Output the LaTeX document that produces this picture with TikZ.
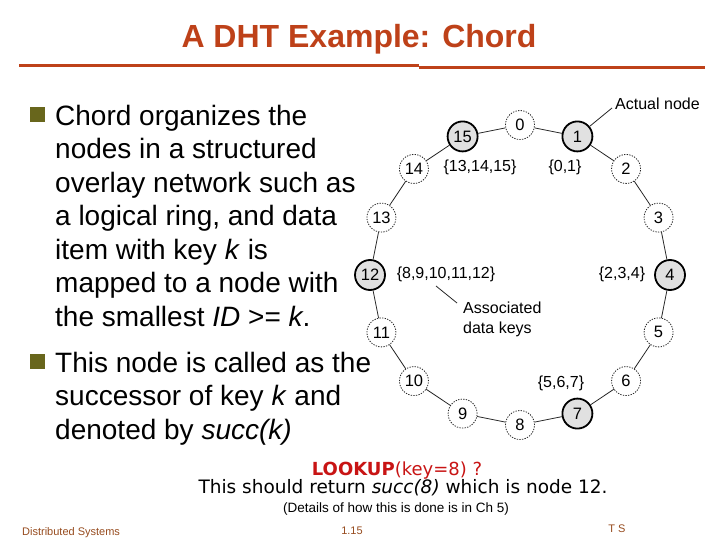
\documentclass[tikz,border=0pt]{standalone}
\usepackage{fontspec}
\setmainfont{Liberation Sans}
\newfontfamily\verd{DejaVu Sans}
\definecolor{titlered}{RGB}{190,65,25}
\definecolor{olive}{RGB}{104,102,28}
\definecolor{lookred}{RGB}{200,20,20}
\definecolor{footbrown}{RGB}{150,75,30}
\definecolor{nodegray}{RGB}{225,225,225}
\begin{document}
\begin{tikzpicture}[x=1pt,y=-1pt,
  vnode/.style={circle,draw=black!85,line width=0.8pt,dash pattern=on 1.3pt off 1.3pt,fill=white,minimum size=29pt,inner sep=0pt,font=\fontsize{16.5}{16.5}\selectfont},
  anode/.style={circle,draw=black,line width=1.8pt,fill=nodegray,minimum size=30pt,inner sep=0pt,font=\fontsize{16.5}{16.5}\selectfont},
  keylbl/.style={inner sep=0pt,font=\fontsize{16}{16}\selectfont},
  ringedge/.style={draw=black!85,line width=0.8pt},
  bullettext/.style={anchor=base west,inner sep=0pt,align=left,font=\fontsize{28}{33.5}\selectfont},
  bulletsq/.style={fill=olive,draw=none},
  foot/.style={inner sep=0pt,text=footbrown,font=\fontsize{11}{11}\selectfont}]
\useasboundingbox (0,0) rectangle (720,540);

% title
\node[inner sep=0pt,anchor=base,text=titlered,font=\fontsize{32}{32}\selectfont\bfseries] (title) at (359,48) {A DHT Example: Chord};
\coordinate (r1) at (19,65.5);
\coordinate (r2) at (419,65.5);
\coordinate (r3) at (419,67.5);
\coordinate (r4) at (705,67.5);
\draw[titlered,line width=3.2pt] (r1) -- (r2);
\draw[titlered,line width=3.2pt] (r3) -- (r4);

% bullets (anchor = baseline of the last line)
\fill[bulletsq] (30,107) rectangle (45,122);
\node[bullettext] (b1) at (55,326) {Chord organizes the\\nodes in a structured\\overlay network such as\\a logical ring, and data\\item with key \textit{k} is\\mapped to a node with\\the smallest \textit{ID} >= \textit{k}.};
\fill[bulletsq] (30,354) rectangle (45,369);
\node[bullettext] (b2) at (55,439) {This node is called as the\\successor of key \textit{k} and\\denoted by \textit{succ(k)}};

% ring
\foreach \i in {0,2,3,5,6,8,9,10,11,13,14}
  \node[vnode] (n\i) at ({520+150*cos(90-22.5*\i)},{275-150*sin(90-22.5*\i)}) {\i};
\foreach \i in {1,4,7,12,15}
  \node[anode] (n\i) at ({520+150*cos(90-22.5*\i)},{275-150*sin(90-22.5*\i)}) {\i};
\foreach \i [evaluate=\i as \j using {int(mod(\i+1,16))}] in {0,...,15}
  \draw[ringedge] (n\i) -- (n\j);

% key labels
\node[keylbl] (k15) at (480,167) {\{13,14,15\}};
\node[keylbl] (k1) at (565,167) {\{0,1\}};
\node[keylbl] (k12) at (446,274) {\{8,9,10,11,12\}};
\node[keylbl] (k4) at (622,274) {\{2,3,4\}};
\node[keylbl] (k7) at (561,383) {\{5,6,7\}};

% callouts
\node[keylbl,anchor=west] (actual) at (615,104) {Actual node};
\coordinate (ac) at (612,108);
\draw[ringedge] (n1) -- (ac);
\node[keylbl,anchor=west,align=left,font=\fontsize{16}{20}\selectfont] (assoc) at (463,319) {Associated\\data keys};
\coordinate (as1) at (436,286);
\coordinate (as2) at (457,303);
\draw[ringedge] (as1) -- (as2);

% lookup text
\node[inner sep=0pt,anchor=base,text=lookred,font=\verd\fontsize{18}{18}\selectfont] (look) at (397,475) {\textbf{LOOKUP}(key=8) ?};
\node[inner sep=0pt,anchor=base,font=\verd\fontsize{18.5}{18.5}\selectfont] (ret) at (403,493) {This should return \textit{succ(8)} which is node 12.};
\node[inner sep=0pt,anchor=base,font=\fontsize{13.5}{13.5}\selectfont] (det) at (396,512) {(Details of how this is done is in Ch 5)};

% footer
\node[foot,anchor=base west] (f1) at (22,535) {Distributed Systems};
\node[foot,anchor=base] (f2) at (352,534) {1.15};
\node[foot,anchor=base] (f3) at (617,532) {T S};
\end{tikzpicture}
\end{document}
